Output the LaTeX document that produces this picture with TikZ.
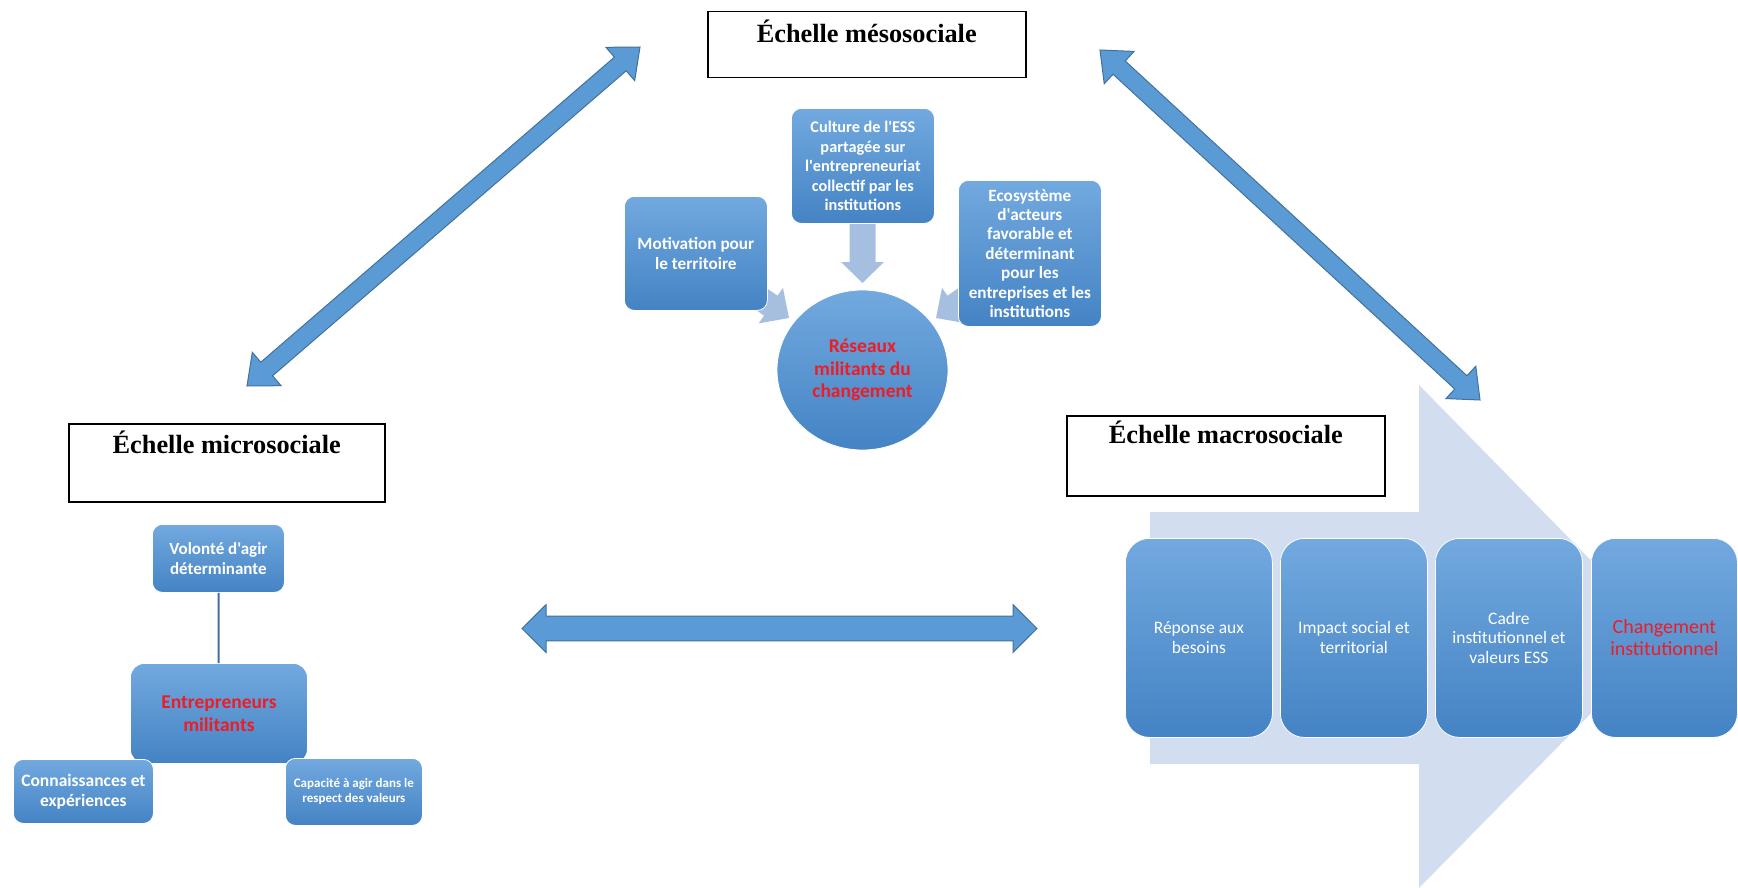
\documentclass[tikz,border=0pt]{standalone}
\usepackage{fontspec}
\setmainfont{Carlito}[Ligatures=TeXOff]
\newfontfamily\titlefont{Liberation Serif}
\usetikzlibrary{calc,shapes.geometric}
\definecolor{arrblue}{HTML}{5B9BD5}
\definecolor{arredge}{HTML}{41719C}
\definecolor{boxtop}{HTML}{72A9DF}
\definecolor{boxbot}{HTML}{4483C4}
\definecolor{paleblue}{HTML}{D2DEEF}
\definecolor{softarr}{HTML}{A6BFE0}
\definecolor{redtxt}{HTML}{EE1C25}
\tikzset{
  titlebox/.style={draw=black, line width=1.5pt, fill=white, anchor=north west,
    font=\titlefont\bfseries\fontsize{26.3}{31}\selectfont, inner xsep=0pt, inner ysep=4pt},
  bluebox/.style={rounded corners=10pt, top color=boxtop, bottom color=boxbot,
    draw=white, line width=0.8pt, text=white, align=center, inner sep=0pt, anchor=north west},
  bigarrow/.style={fill=arrblue, draw=arredge, line width=1pt, line join=miter},
  softarrow/.style={fill=softarr, draw=none},
}
\newcommand\dblarrow[5]{%
  \coordinate (da1) at ($(#1)!#3!(#2)$);
  \coordinate (db1) at ($(#2)!#3!(#1)$);
  \draw[bigarrow] (#1) -- ($(da1)!#5!90:(#2)$) -- ($(da1)!#4!90:(#2)$)
    -- ($(db1)!#4!-90:(#1)$) -- ($(db1)!#5!-90:(#1)$) -- (#2)
    -- ($(db1)!#5!90:(#1)$) -- ($(db1)!#4!90:(#1)$)
    -- ($(da1)!#4!-90:(#2)$) -- ($(da1)!#5!-90:(#2)$) -- cycle;}
\newcommand\onearrow[5]{%
  \coordinate (sb1) at ($(#2)!#3!(#1)$);
  \fill[softarrow] ($(#1)!#4!90:(#2)$) -- ($(sb1)!#4!-90:(#1)$) -- ($(sb1)!#5!-90:(#1)$)
    -- (#2) -- ($(sb1)!#5!90:(#1)$) -- ($(sb1)!#4!90:(#1)$) -- ($(#1)!#4!-90:(#2)$) -- cycle;}
\begin{document}
\begin{tikzpicture}[x=1pt,y=-1pt]
\useasboundingbox (0,0) rectangle (1738,888);
\fill[white] (0,0) rectangle (1738,888);

% large pale arrow (macro scale)
\fill[paleblue] (1150,512) -- (1419,512) -- (1419,385) -- (1666,637) -- (1419,888)
  -- (1419,764) -- (1150,764) -- cycle;

% soft arrows towards the ellipse
\coordinate (cultail) at (862.5,170);
\coordinate (cultip) at (862.5,283);
\onearrow{cultail}{cultip}{21pt}{13pt}{21.5pt}
\coordinate (mottail) at (723,273);
\coordinate (mottip) at (789,318);
\onearrow{mottail}{mottip}{22pt}{12pt}{21.5pt}
\coordinate (ecotail) at (1002,273);
\coordinate (ecotip) at (936,318);
\onearrow{ecotail}{ecotip}{22pt}{12pt}{21.5pt}

% titles
\node[titlebox, minimum width=318pt, text height=27pt, text depth=31pt] (meso) at (707,11) {Échelle mésosociale};
\node[titlebox, minimum width=316pt, text height=26pt, text depth=44pt] (micro) at (68,423) {Échelle microsociale};
\node[titlebox, minimum width=318pt, text height=24pt, text depth=48pt] (macro) at (1066,415) {Échelle macrosociale};

% meso boxes
\node[bluebox, minimum width=143pt, minimum height=115pt, font=\bfseries\fontsize{16.3}{19.5}\selectfont] (culture) at (791,108)
  {Culture de l'ESS\\partagée sur\\l'entrepreneuriat\\collectif par les\\institutions};
\node[bluebox, minimum width=143pt, minimum height=114pt, font=\bfseries\fontsize{17.2}{20}\selectfont] (motiv) at (624,196)
  {Motivation pour\\le territoire};
\node[bluebox, minimum width=143pt, minimum height=146pt, font=\bfseries\fontsize{17.2}{19.4}\selectfont] (eco) at (958,180)
  {Ecosystème\\d'acteurs\\favorable et\\déterminant\\pour les\\entreprises et les\\institutions};
\node[ellipse, top color=boxtop, bottom color=boxbot, draw=white, line width=0.8pt, minimum width=171pt, minimum height=160pt, inner sep=0pt,
  align=center, text=redtxt, font=\bfseries\fontsize{19.5}{22.5}\selectfont] (reseaux) at (862.5,370)
  {Réseaux\\militants du\\changement};

% micro boxes
\node[bluebox, minimum width=132pt, minimum height=68pt, font=\bfseries\fontsize{17}{19.5}\selectfont] (volonte) at (152,524)
  {Volonté d'agir\\déterminante};
\node[bluebox, rounded corners=14pt, minimum width=177pt, minimum height=100pt, text=redtxt, font=\bfseries\fontsize{19.5}{23}\selectfont] (entre) at (130,663)
  {Entrepreneurs\\militants};
\draw[arredge, line width=2pt] (volonte) -- (entre);
\node[bluebox, minimum width=140pt, minimum height=64pt, font=\bfseries\fontsize{17.5}{20}\selectfont] (conn) at (13,759)
  {Connaissances et\\expériences};
\node[bluebox, minimum width=137pt, minimum height=67pt, font=\bfseries\fontsize{13}{15}\selectfont] (capa) at (285,758)
  {Capacité à agir dans le\\respect des valeurs};

% macro boxes
\node[bluebox, rounded corners=24pt, minimum width=147pt, minimum height=199pt, font=\fontsize{17.5}{20}\selectfont] (rep) at (1125,538)
  {Réponse aux\\besoins};
\node[bluebox, rounded corners=24pt, minimum width=147pt, minimum height=199pt, font=\fontsize{17.5}{20}\selectfont] (impact) at (1280,538)
  {Impact social et\\territorial};
\node[bluebox, rounded corners=24pt, minimum width=147pt, minimum height=199pt, font=\fontsize{17.5}{19.5}\selectfont] (cadre) at (1435,538)
  {Cadre\\institutionnel et\\valeurs ESS};
\node[bluebox, rounded corners=24pt, minimum width=146pt, minimum height=199pt, text=redtxt, font=\fontsize{20}{22}\selectfont] (chang) at (1591,538)
  {Changement\\institutionnel};

% double arrows between scales
\coordinate (lda) at (640,47);
\coordinate (ldb) at (247,386);
\dblarrow{lda}{ldb}{26pt}{9pt}{22pt}
\coordinate (rda) at (1100,50);
\coordinate (rdb) at (1480,400);
\dblarrow{rda}{rdb}{26pt}{9pt}{22pt}
\coordinate (hda) at (522,628.5);
\coordinate (hdb) at (1037,628.5);
\dblarrow{hda}{hdb}{24pt}{12.3pt}{23.8pt}
\end{tikzpicture}
\end{document}
